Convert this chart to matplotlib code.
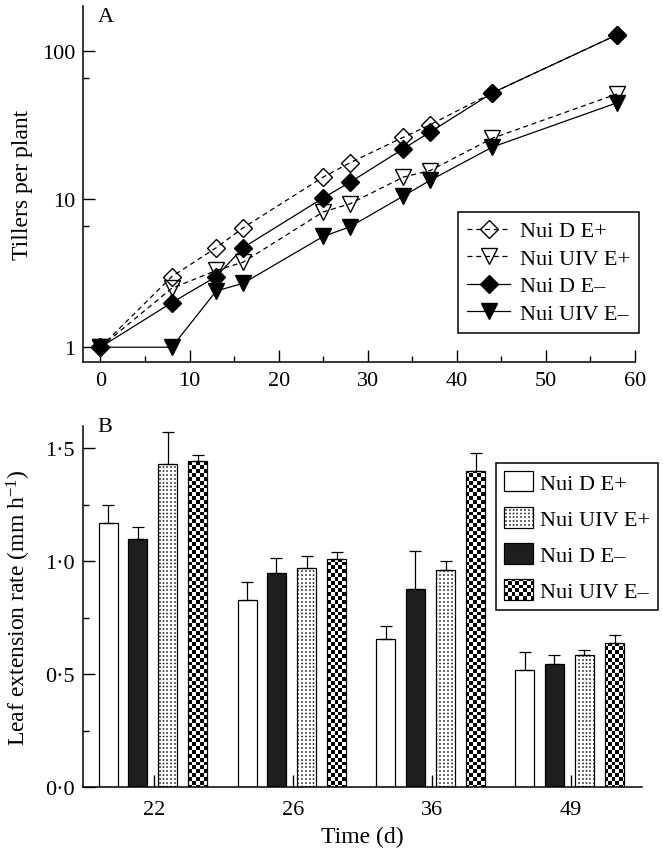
import numpy as np
import matplotlib
matplotlib.use('Agg')
import matplotlib.pyplot as plt
import matplotlib.hatch as mhatch
from matplotlib.path import Path
from matplotlib.ticker import NullFormatter

import warnings
warnings.filterwarnings(action='ignore')

# panel A: tillers per plant
days = [0, 8, 13, 16, 25, 28, 34, 37, 44, 58]
d_eplus = [1.0, 3.0, 4.7, 6.4, 14.1, 17.6, 26.2, 31.8, 52.3, 129]
uiv_eplus = [1.0, 2.5, 3.3, 3.75, 8.2, 9.3, 14.1, 15.6, 25.8, 51.4]
d_eminus = [1.0, 2.0, 3.0, 4.7, 10.2, 13.0, 21.9, 28.4, 52.3, 129]
uiv_eminus = [1.0, 1.0, 2.4, 2.7, 5.6, 6.5, 10.5, 13.4, 22.5, 44.8]

# panel B: leaf extension rate, mean and upper error
sample_days = ['22', '26', '36', '49']
rate_d_eplus = [1.17, 0.83, 0.655, 0.52]
err_d_eplus = [0.08, 0.08, 0.057, 0.077]
rate_d_eminus = [1.10, 0.947, 0.875, 0.544]
err_d_eminus = [0.053, 0.065, 0.168, 0.041]
rate_uiv_eplus = [1.43, 0.972, 0.963, 0.587]
err_uiv_eplus = [0.14, 0.049, 0.037, 0.019]
rate_uiv_eminus = [1.443, 1.01, 1.397, 0.64]
err_uiv_eminus = [0.025, 0.03, 0.081, 0.033]

y_ticks_b = [0.0, 0.5, 1.0, 1.5]
y_ticklabels_b = ['0\u00b70', '0\u00b75', '1\u00b70', '1\u00b75']


# extra hatches: 'c' = checker board, 'g' = grid of small dots
class SquareHatch:
    filled = True

    def __init__(self, hatch, density):
        self.squares = []
        n = 26
        edges = np.round(np.linspace(0, 1, n + 1) * 100) / 100
        if 'c' in hatch:
            for i in range(n):
                for j in range(n):
                    if (i + j) % 2 == 0:
                        self.squares.append((edges[i], edges[j], edges[i + 1], edges[j + 1]))
        elif 'g' in hatch:
            h = 0.0075
            for i in range(n):
                for j in range(n):
                    cx = (edges[i] + edges[i + 1]) / 2
                    cy = (edges[j] + edges[j + 1]) / 2
                    self.squares.append((cx - h, cy - h, cx + h, cy + h))
        self.num_vertices = 5 * len(self.squares)

    def set_vertices_and_codes(self, vertices, codes):
        for k, (x0, y0, x1, y1) in enumerate(self.squares):
            vertices[5 * k:5 * k + 5] = [[x0, y0], [x1, y0], [x1, y1], [x0, y1], [x0, y0]]
            codes[5 * k] = Path.MOVETO
            codes[5 * k + 1:5 * k + 4] = Path.LINETO
            codes[5 * k + 4] = Path.CLOSEPOLY


mhatch._hatch_types.append(SquareHatch)

plt.rcParams['font.family'] = ['Liberation Serif', 'DejaVu Serif']
plt.rcParams['mathtext.default'] = 'regular'
plt.rcParams['font.size'] = 16
plt.rcParams['hatch.linewidth'] = 0.0
plt.rcParams['hatch.color'] = 'black'
plt.rcParams['axes.linewidth'] = 1.1

fig = plt.figure(figsize=(6.63, 8.53), dpi=100)
ax1 = fig.add_axes([0.1247, 0.5739, 0.833, 0.418])
ax2 = fig.add_axes([0.1247, 0.0759, 0.843, 0.424])

# ---- panel A ----
dash = (4, 3)
ax1.plot(days, d_eplus, color='black', lw=0.9, dashes=dash, marker='D', ms=9,
         mfc='none', mec='black', mew=1.0, label='Nui D E+')
ax1.plot(days, uiv_eplus, color='black', lw=0.9, dashes=dash, marker='v', ms=12,
         mfc='none', mec='black', mew=1.0, label='Nui UIV E+')
ax1.plot(days, d_eminus, color='black', lw=0.9, marker='D', ms=9,
         mfc='black', mec='black', label='Nui D E\u2013')
ax1.plot(days, uiv_eminus, color='black', lw=0.9, marker='v', ms=12,
         mfc='black', mec='black', label='Nui UIV E\u2013')

ax1.set_yscale('log')
ax1.set_xlim(-2, 60)
ax1.set_ylim(0.789, 202)
ax1.set_xticks(range(0, 61, 10))
ax1.set_xticks(range(5, 60, 10), minor=True)
ax1.set_yticks([1, 10, 100], ['1', '10', '100'])
ax1.set_yticks([6.55, 65.5], minor=True)
ax1.yaxis.set_minor_formatter(NullFormatter())
ax1.tick_params(which='major', direction='in', length=8.5, width=1.0, pad=5)
ax1.tick_params(which='minor', direction='in', length=4.5, width=1.0)
ax1.tick_params(axis='x', which='major', pad=6)
for s in ['top', 'right']:
    ax1.spines[s].set_visible(False)
ax1.set_ylabel('Tillers per plant', fontsize=17)
ax1.yaxis.set_label_coords(-0.09, 0.5)

leg1 = ax1.legend(loc='upper left', bbox_to_anchor=(458 / 663, 1 - 213 / 853),
                  bbox_transform=fig.transFigure, frameon=True, fancybox=False,
                  edgecolor='black', framealpha=1, numpoints=1, handlelength=1.95,
                  handletextpad=0.45, borderpad=0.4, labelspacing=0.31,
                  borderaxespad=0)
leg1.get_frame().set_linewidth(1.1)

# ---- panel B ----
x = np.arange(len(sample_days))
w = 0.137
b1 = ax2.bar(x - 0.33, rate_d_eplus, w, color='white', edgecolor='black',
             lw=0.9, label='Nui D E+')
b3 = ax2.bar(x - 0.118, rate_d_eminus, w, color='#1e1e1e', edgecolor='black',
             lw=0.9, label='Nui D E\u2013')
b2 = ax2.bar(x + 0.099, rate_uiv_eplus, w, color='white', edgecolor='black',
             lw=0.9, hatch='g', label='Nui UIV E+')
b4 = ax2.bar(x + 0.316, rate_uiv_eminus, w, color='white', edgecolor='black',
             lw=0.9, hatch='c', label='Nui UIV E\u2013')

for off, vals, errs in [(-0.33, rate_d_eplus, err_d_eplus),
                        (-0.118, rate_d_eminus, err_d_eminus),
                        (0.099, rate_uiv_eplus, err_uiv_eplus),
                        (0.316, rate_uiv_eminus, err_uiv_eminus)]:
    ax2.errorbar(x + off, vals, yerr=[np.zeros(len(errs)), errs], fmt='none',
                 ecolor='black', elinewidth=0.9, capsize=4, capthick=0.9)

ax2.set_xlim(-0.513, 3.51)
ax2.set_ylim(0, 1.6)
ax2.set_xticks(x, sample_days)
ax2.set_yticks(y_ticks_b, y_ticklabels_b)
ax2.set_yticks([0.25, 0.75, 1.25], minor=True)
ax2.tick_params(which='major', direction='in', length=8.5, width=1.0)
ax2.tick_params(which='minor', direction='in', length=4.5, width=1.0)
ax2.tick_params(axis='x', pad=9)
ax2.tick_params(axis='y', pad=6)
for s in ['top', 'right']:
    ax2.spines[s].set_visible(False)
ax2.set_ylabel('Leaf extension rate (mm h$^{-1}$)', fontsize=17)
ax2.yaxis.set_label_coords(-0.089, 0.5)
ax2.set_xlabel('Time (d)', fontsize=17, va='baseline')
ax2.xaxis.set_label_coords(0.5, -0.152)

leg2 = ax2.legend(handles=[b1, b2, b3, b4], loc='upper left',
                  bbox_to_anchor=(496 / 663, 1 - 464 / 853),
                  bbox_transform=fig.transFigure, frameon=True, fancybox=False,
                  edgecolor='black', framealpha=1, handlelength=1.3,
                  handleheight=1.04, handletextpad=0.32, borderpad=0.36,
                  labelspacing=0.6, borderaxespad=0)
leg2.get_frame().set_linewidth(1.1)

fig.text(106 / 663, 1 - 17 / 853, 'A', ha='center', va='center', fontsize=16)
fig.text(105 / 663, 1 - 428 / 853, 'B', ha='center', va='center', fontsize=16)

fig.savefig('out.png', dpi=100)
